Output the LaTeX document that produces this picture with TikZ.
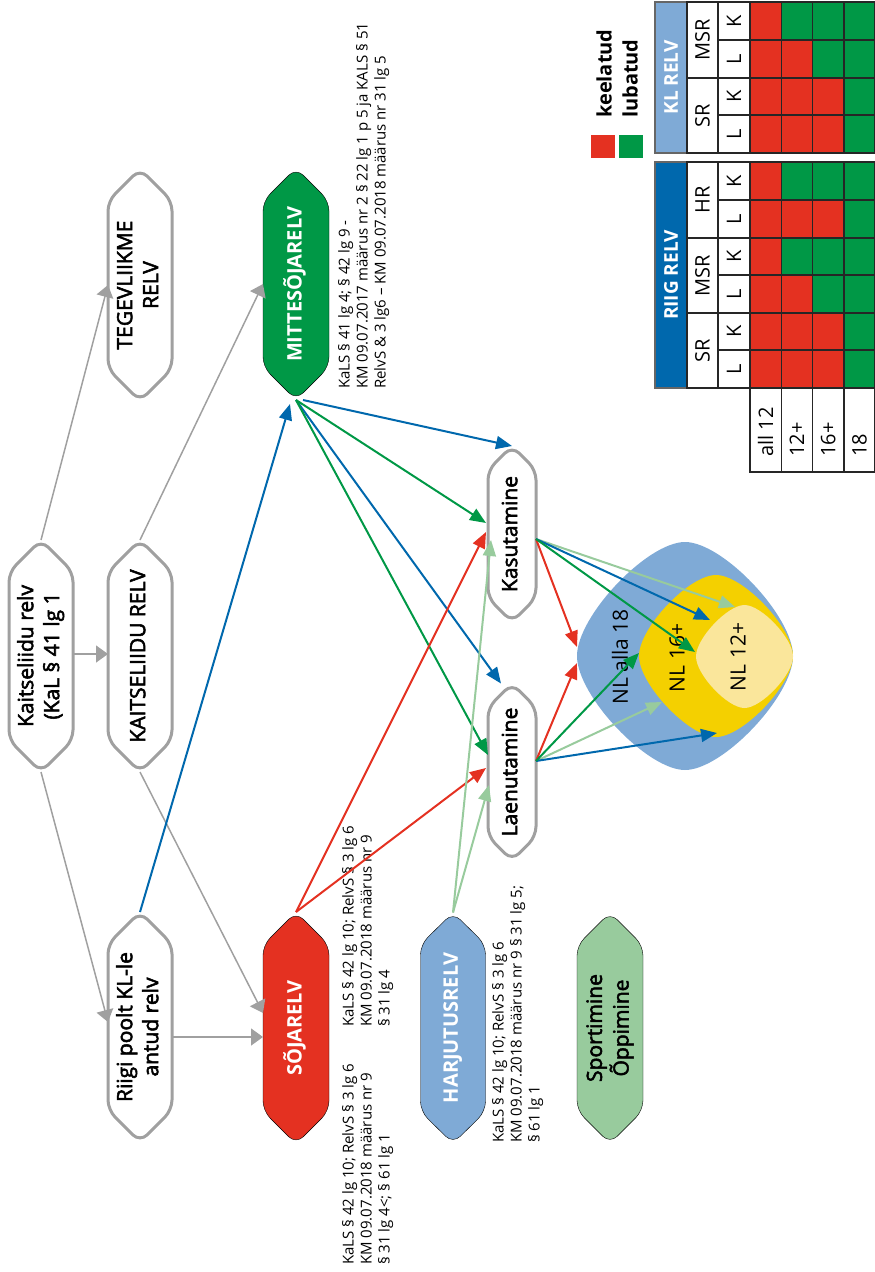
\documentclass[tikz,border=0pt]{standalone}
\usepackage{fontspec}
\setmainfont{Open Sans}
\newfontfamily\semib[FakeBold=2.5]{Open Sans}
\usetikzlibrary{calc,arrows.meta}
\definecolor{cgray}{HTML}{A0A0A0}
\definecolor{cred}{HTML}{E43121}
\definecolor{cgreen}{HTML}{009846}
\definecolor{cblue}{HTML}{0068AD}
\definecolor{clblue}{HTML}{7FAAD6}
\definecolor{clgreen}{HTML}{98CB9D}
\definecolor{cyel}{HTML}{F4D000}
\definecolor{clyel}{HTML}{FAE69B}
\pgfdeclarelayer{bg}\pgfsetlayers{bg,main}
\newcommand\rt[1]{\rotatebox{90}{\begin{tabular}{@{}c@{}}#1\end{tabular}}}
\newcommand\chev[3]{%
 \draw[#1] (#2.north) -- ($(#2.north east)+(0,#3)$) -- ($(#2.south east)+(0,-#3)$) -- (#2.south) -- ($(#2.south west)+(0,-#3)$) -- ($(#2.north west)+(0,#3)$) -- cycle;}
\newcommand\rdiam[6]{%
 \fill[#1] ({#2-#4},#3) .. controls +(0,{-#6*#5}) and +({-#6*#4},0) .. (#2,{#3-#5})
  .. controls +({#6*#4},0) and +(0,{-#6*#5}) .. ({#2+#4},#3)
  .. controls +(0,{#6*#5}) and +({#6*#4},0) .. (#2,{#3+#5})
  .. controls +({-#6*#4},0) and +(0,{#6*#5}) .. ({#2-#4},#3) -- cycle;}
\begin{document}
\begin{tikzpicture}[x=1pt,y=-1pt,
 chevbox/.style 2 args={minimum width=#1,minimum height=#2,inner sep=0pt,outer sep=0pt},
 ntext/.style={font=\semib\fontsize{21}{26}\selectfont,text=black},
 wtext/.style={font=\bfseries\fontsize{20}{24}\selectfont,text=white},
 outl/.style={draw=cgray,line width=3pt,fill=white,rounded corners=10pt},
 sfill/.style={fill=#1,rounded corners=10pt},
 gline/.style={draw=cgray,line width=1.5pt,-{Triangle[length=12pt,width=17pt]}},
 cline/.style={draw=#1,line width=2pt,-{Triangle[length=16pt,width=13pt]}},
 legal/.style={font=\fontsize{15}{18}\selectfont,rotate=90,anchor=north west,align=left,inner sep=0pt},
 nltext/.style={font=\fontsize{21}{24}\selectfont,rotate=90},
 cell/.style={draw=black!85,line width=1.5pt},
 tabtext/.style={font=\fontsize{20}{24}\selectfont,rotate=90,inner sep=0pt},
 tabtitle/.style={font=\bfseries\fontsize{19}{24}\selectfont,text=white,rotate=90},
]
\useasboundingbox (0,0) rectangle (875,1272);

% ---------- chevron nodes ----------
\node[chevbox={64}{232},ntext] (krelv) at (41,656) {\rt{Kaitseliidu relv\\(KaL § 41 lg 1}};
\node[chevbox={64}{232},ntext] (teg) at (140,285) {\rt{TEGEVLIIKME\\RELV}};
\node[chevbox={64}{232},ntext] (kaitrelv) at (140,656) {\rt{KAITSELIIDU RELV}};
\node[chevbox={64}{230},ntext] (riigi) at (140,1027) {\rt{Riigi poolt KL-le\\antud relv}};
\node[chevbox={66}{232},wtext] (soja) at (296,1028) {\rt{SÕJARELV}};
\node[chevbox={66}{232},wtext] (mitte) at (296,284) {\rt{MITTESÕJARELV}};
\node[chevbox={65}{231},wtext] (harj) at (453,1028) {\rt{HARJUTUSRELV}};
\node[chevbox={66}{231},ntext] (sport) at (610,1028) {\rt{Sportimine\\Õppimine}};
\node[chevbox={48}{176},ntext] (kas) at (512,534) {\rt{Kasutamine}};
\node[chevbox={48}{177},ntext] (laen) at (512,772) {\rt{Laenutamine}};

\begin{pgfonlayer}{bg}
 \chev{outl}{krelv}{32}
 \chev{outl}{teg}{32}
 \chev{outl}{kaitrelv}{32}
 \chev{outl}{riigi}{32}
 \chev{sfill=cred}{soja}{33}
 \chev{sfill=cgreen}{mitte}{33}
 \chev{sfill=clblue}{harj}{32}
 \chev{sfill=clgreen}{sport}{33}
 \chev{outl}{kas}{24}
 \chev{outl}{laen}{24}
 % nested rounded diamonds
 \rdiam{clblue}{685}{656}{108}{114}{0.35}
 \rdiam{cyel}{716}{656}{77}{81}{0.35}
 \rdiam{clyel}{744.5}{656.5}{48.5}{51.5}{0.35}
\end{pgfonlayer}

\node[nltext] (nl18) at (620,657) {NL alla 18};
\node[nltext] (nl16) at (677,658) {NL 16+};
\node[nltext] (nl12) at (738,657) {NL 12+};

% ---------- legal texts ----------
\node[legal] (tmitte) at (338,389) {KaLS § 41 lg 4; § 42 lg 9 -\\KM 09.07.2017 määrus nr 2 § 22 lg 1 p 5 ja KALS § 51\\RelvS \& 3 lg6 – KM 09.07.2018 määrus nr 31 lg 5};
\node[legal] (tsojaA) at (342,1027) {KaLS § 42 lg 10; RelvS § 3 lg 6\\KM 09.07.2018 määrus nr 9\\§ 31 lg 4};
\node[legal] (tsojaB) at (342,1265) {KaLS § 42 lg 10; RelvS § 3 lg 6\\KM 09.07.2018 määrus nr 9\\§ 31 lg 4<; § 61 lg 1};
\node[legal] (tharj) at (492,1143) {KaLS § 42 lg 10; RelvS § 3 lg 6\\KM 09.07.2018 määrus nr 9 § 31 lg 5;\\§ 61 lg 1};

% ---------- target coordinates ----------
\coordinate (kR) at (577,647);
\coordinate (kB) at (710,620);
\coordinate (kG) at (695,652);
\coordinate (kL) at (735,607);
\coordinate (lR) at (577,663);
\coordinate (lG) at (639,653);
\coordinate (lL) at (662,702);
\coordinate (lB) at (717,733);

% ---------- gray connectors ----------
\draw[gline] (krelv.north) -- (teg.west);
\draw[gline] (krelv.south) -- ($(riigi.west)+(0,-5)$);
\draw[gline] ($(krelv.east)+(0,-2)$) -- ($(kaitrelv.west)+(0,-2)$);
\draw[gline] (kaitrelv.north) -- (mitte.west);
\draw[gline] (kaitrelv.south) -- ($(soja.west)+(0,-15)$);
\draw[gline] ($(riigi.east)+(0,10)$) -- ($(soja.west)+(0,9)$);

% ---------- coloured connectors ----------
\draw[cline=cblue] (riigi.north) -- ($(mitte.south)+(-6,4)$);
\draw[cline=cblue] ($(mitte.south)+(7,0)$) -- (kas.north);
\draw[cline=cblue] (mitte.south) -- ($(laen.north)+(-11,0)$);
\draw[cline=cgreen] (mitte.south) -- ($(kas.west)+(-2,-11)$);
\draw[cline=cgreen] (mitte.south) -- ($(laen.west)+(0,-17)$);
\draw[cline=cred] (soja.north) -- ($(kas.west)+(-2,-2)$);
\draw[cline=cred] (soja.north) -- ($(laen.west)+(-2,-4)$);
\draw[cline=clgreen] (harj.north) -- ($(kas.west)+(3,6)$);
\draw[cline=clgreen] (harj.north) -- ($(laen.west)+(1,13)$);

\draw[cline=clgreen] ($(kas.east)+(0,5)$) -- (kL);
\draw[cline=cred] ($(kas.east)+(0,5)$) -- (kR);
\draw[cline=cblue] ($(kas.east)+(0,5)$) -- (kB);
\draw[cline=cgreen] ($(kas.east)+(0,5)$) -- (kG);
\draw[cline=cred] ($(laen.east)+(0,-11)$) -- (lR);
\draw[cline=clgreen] ($(laen.east)+(0,-11)$) -- (lL);
\draw[cline=cblue] ($(laen.east)+(0,-11)$) -- (lB);
\draw[cline=cgreen] ($(laen.east)+(0,-11)$) -- (lG);

% ---------- legend ----------
\fill[cred] (591,135) rectangle (615,158);
\fill[cgreen] (619,135) rectangle (643,158);
\node[font=\bfseries\fontsize{20}{24}\selectfont,rotate=90,anchor=west,inner sep=0pt] (keel) at (604,118) {keelatud};
\node[font=\bfseries\fontsize{20}{24}\selectfont,rotate=90,anchor=west,inner sep=0pt] (luba) at (630,118) {lubatud};

% ---------- table ----------
\filldraw[fill=cblue,draw=black!60,line width=1.5pt] (655,162) rectangle (687,388);
\node[tabtitle] at (671,275) {RIIG RELV};
\filldraw[fill=clblue,draw=black!60,line width=1.5pt] (655,2) rectangle (687,153);
\node[tabtitle] at (671,77.5) {KL RELV};
\foreach \ya/\yb/\t in {162/238/HR,238/313/MSR,313/388/SR,2/78/MSR,78/153/SR}{
  \draw[cell] (687,\ya) rectangle (718,\yb);
  \node[tabtext] at (702.5,{(\ya+\yb)/2}) {\t};
}
\foreach \ya/\yb/\lk/\a/\b/\c/\d in {
 162/200/K/cred/cgreen/cgreen/cgreen,
 200/238/L/cred/cred/cred/cgreen,
 238/275/K/cred/cgreen/cgreen/cgreen,
 275/313/L/cred/cred/cgreen/cgreen,
 313/350/K/cred/cred/cred/cgreen,
 350/388/L/cred/cred/cred/cgreen,
 2/40/K/cred/cgreen/cgreen/cgreen,
 40/78/L/cred/cred/cgreen/cgreen,
 78/115/K/cred/cred/cred/cgreen,
 115/153/L/cred/cred/cred/cgreen}{
  \draw[cell] (718,\ya) rectangle (750,\yb);
  \node[tabtext] at (734,{(\ya+\yb)/2}) {\lk};
  \foreach \cc [count=\i from 0] in {\a,\b,\c,\d}
    \filldraw[cell,fill=\cc] ({750+31.25*\i},\ya) rectangle ({781.25+31.25*\i},\yb);
}
\foreach \t [count=\i from 0] in {all 12,12+,16+,18}{
  \draw[cell] ({750+31.25*\i},388) rectangle ({781.25+31.25*\i},472);
  \node[tabtext,anchor=west] at ({765.6+31.25*\i},457) {\t};
}
\end{tikzpicture}
\end{document}
